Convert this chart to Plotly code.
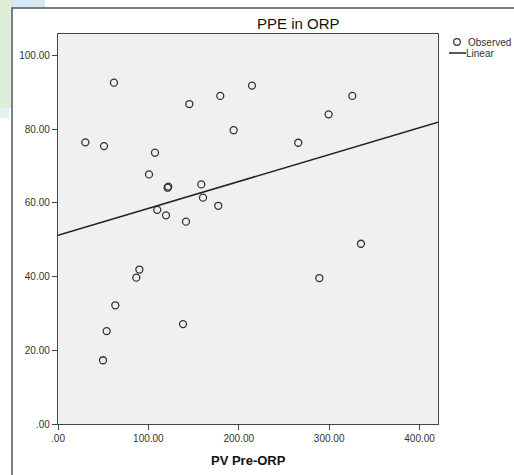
import plotly.graph_objects as go

# ---- data ----
pv_pre_orp = [30.3, 50.9, 61.9, 107.3, 145.3, 179.5, 214.6, 194.3, 265.8, 299.4, 325.6,
              100.7, 121.3, 122.0, 158.5, 160.4, 177.3, 109.8, 119.5, 141.6, 335.2,
              90.0, 86.6, 289.1, 63.4, 138.3, 53.8, 49.8]
ppe = [76.4, 75.4, 92.6, 73.6, 86.8, 89.0, 91.8, 79.7, 76.3, 84.0, 89.0,
       67.7, 64.1, 64.4, 65.0, 61.4, 59.2, 58.1, 56.6, 54.9, 48.9,
       41.9, 39.7, 39.6, 32.2, 27.1, 25.2, 17.3]
fit_intercept = 51.2
fit_slope = 0.0729
x_tick_vals = [0, 100, 200, 300, 400]
x_tick_text = [".00", "100.00", "200.00", "300.00", "400.00"]
y_tick_vals = [0, 20, 40, 60, 80, 100]
y_tick_text = [".00", "20.00", "40.00", "60.00", "80.00", "100.00"]
x_range = [0, 420.4]
y_range = [0, 105.8]

W, H = 514, 475
L, R, T, B = 58, 76, 34, 51
PW, PH = W - L - R, H - T - B


def px(x):
    return (x - L) / PW


def py(y):
    return (H - B - y) / PH


fit_x = x_range
fit_y = [fit_intercept + fit_slope * v for v in fit_x]

FONT = "Liberation Sans, Arial, sans-serif"
DARK = "#333333"

fig = go.Figure()
fig.add_trace(go.Scatter(
    x=pv_pre_orp, y=ppe, mode="markers", name="Observed",
    marker=dict(symbol="circle-open", size=7, color="#333333", line=dict(width=1.3, color="#333333")),
    showlegend=False, cliponaxis=False,
))
fig.add_trace(go.Scatter(
    x=fit_x, y=fit_y, mode="lines", name="Linear",
    line=dict(color="#222222", width=1.5), showlegend=False,
))

shapes = [
    # background decoration top-left
    dict(type="rect", xref="paper", yref="paper", x0=px(0), x1=px(45), y0=py(8), y1=py(0),
         fillcolor="#d5e8f4", line=dict(width=0), layer="below"),
    dict(type="rect", xref="paper", yref="paper", x0=px(0), x1=px(11), y0=py(108), y1=py(0),
         fillcolor="#ddefd8", line=dict(width=0), layer="below"),
    dict(type="rect", xref="paper", yref="paper", x0=px(0), x1=px(9), y0=py(118), y1=py(108),
         fillcolor="#e4eff6", line=dict(width=0), layer="below"),
    # outer frame
    dict(type="rect", xref="paper", yref="paper", x0=px(12), x1=px(530), y0=py(490), y1=py(8),
         line=dict(color="#555555", width=1.5), fillcolor="rgba(0,0,0,0)"),
    # legend symbols
    dict(type="circle", xref="paper", yref="paper", x0=px(457 - 3.3), x1=px(457 + 3.3),
         y0=py(42 + 3.3), y1=py(42 - 3.3), line=dict(color="#333333", width=1.2)),
    dict(type="line", xref="paper", yref="paper", x0=px(449), x1=px(466), y0=py(53), y1=py(53),
         line=dict(color="#222222", width=1.5)),
]

annotations = [
    dict(text="PPE in ORP", xref="paper", yref="paper", x=px(298), y=py(23),
         xanchor="center", yanchor="middle", showarrow=False,
         font=dict(family=FONT, size=15, color="#111111")),
    dict(text="<b>PV Pre-ORP</b>", xref="paper", yref="paper", x=px(248), y=py(460),
         xanchor="center", yanchor="middle", showarrow=False,
         font=dict(family=FONT, size=13, color="#111111")),
    dict(text="Observed", xref="paper", yref="paper", x=px(466), y=py(42),
         xanchor="left", yanchor="middle", showarrow=False,
         font=dict(family=FONT, size=10, color=DARK)),
    dict(text="Linear", xref="paper", yref="paper", x=px(464), y=py(53),
         xanchor="left", yanchor="middle", showarrow=False,
         font=dict(family=FONT, size=10, color=DARK)),
]

axis_common = dict(
    showgrid=False, zeroline=False, showline=True, mirror=True,
    linecolor="#444444", linewidth=1.3, ticks="outside", ticklen=5, tickwidth=1.2,
    tickcolor="#444444", tickfont=dict(family=FONT, size=10, color=DARK),
)

fig.update_layout(
    width=W, height=H,
    margin=dict(l=L, r=R, t=T, b=B, pad=0),
    paper_bgcolor="white", plot_bgcolor="#f0f0f0",
    xaxis=dict(range=x_range, tickvals=x_tick_vals, ticktext=x_tick_text, **axis_common),
    yaxis=dict(range=y_range, tickvals=y_tick_vals, ticktext=y_tick_text, **axis_common),
    shapes=shapes, annotations=annotations, showlegend=False,
)

fig.write_html("out.html", config={"displayModeBar": False},
               post_script="document.body.style.margin='0';document.body.style.padding='0';")
